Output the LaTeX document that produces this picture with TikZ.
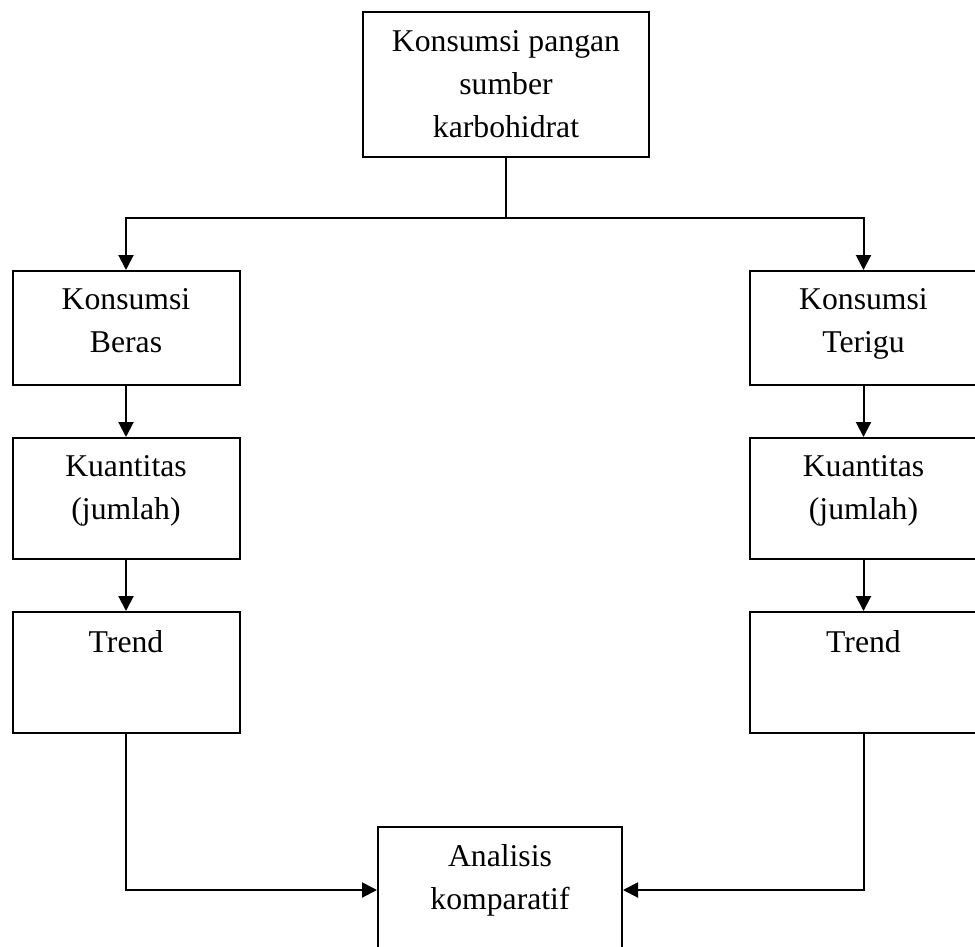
\documentclass[tikz,border=0pt]{standalone}
\usepackage{fontspec}
\setmainfont{Liberation Serif}
\usetikzlibrary{arrows.meta}
\tikzset{
  box/.style={draw, line width=2pt, rectangle, inner sep=0pt},
  txt/.style={anchor=north, inner sep=0pt, align=center, font=\fontsize{31.7}{43}\selectfont},
  conn/.style={line width=1.8pt},
  arr/.style={line width=2pt, -{Triangle[length=15pt,width=15pt]}},
}
\begin{document}
\begin{tikzpicture}[x=1pt,y=-1pt]
\useasboundingbox (0,0) rectangle (975,946);
% boxes
\node[box, minimum width=286pt, minimum height=145pt] (top) at (506,84.5) {};
\node[box, minimum width=227pt, minimum height=114pt] (kb) at (126,328) {};
\node[box, minimum width=227pt, minimum height=121pt] (qb) at (126,498.5) {};
\node[box, minimum width=227pt, minimum height=121pt] (tb) at (126,672.5) {};
\node[box, minimum width=227pt, minimum height=114pt] (kt) at (863.5,328) {};
\node[box, minimum width=227pt, minimum height=121pt] (qt) at (863.5,498.5) {};
\node[box, minimum width=227pt, minimum height=121pt] (tt) at (863.5,672.5) {};
\node[box, minimum width=244pt, minimum height=126pt] (an) at (500,890) {};
% texts
\node[txt] (toptxt) at ([yshift=-19pt]top.north) {Konsumsi pangan\\sumber\\karbohidrat};
\node[txt] (kbtxt) at ([yshift=-18pt]kb.north) {Konsumsi\\Beras};
\node[txt] (qbtxt) at ([yshift=-18pt]qb.north) {Kuantitas\\(jumlah)};
\node[txt] (tbtxt) at ([yshift=-19pt]tb.north) {Trend};
\node[txt] (kttxt) at ([yshift=-18pt]kt.north) {Konsumsi\\Terigu};
\node[txt] (qttxt) at ([yshift=-18pt]qt.north) {Kuantitas\\(jumlah)};
\node[txt] (tttxt) at ([yshift=-19pt]tt.north) {Trend};
\node[txt] (antxt) at ([yshift=-18pt]an.north) {Analisis\\komparatif};
% connectors
\coordinate (split) at (506,218);
\draw[conn] (top.south) -- (split);
\draw[arr] (split) -| (kb.north);
\draw[arr] (split) -| (kt.north);
\draw[arr] (kb.south) -- (qb.north);
\draw[arr] (qb.south) -- (tb.north);
\draw[arr] (kt.south) -- (qt.north);
\draw[arr] (qt.south) -- (tt.north);
\draw[arr] (tb.south) |- (an.west);
\draw[arr] (tt.south) |- (an.east);
\end{tikzpicture}
\end{document}
